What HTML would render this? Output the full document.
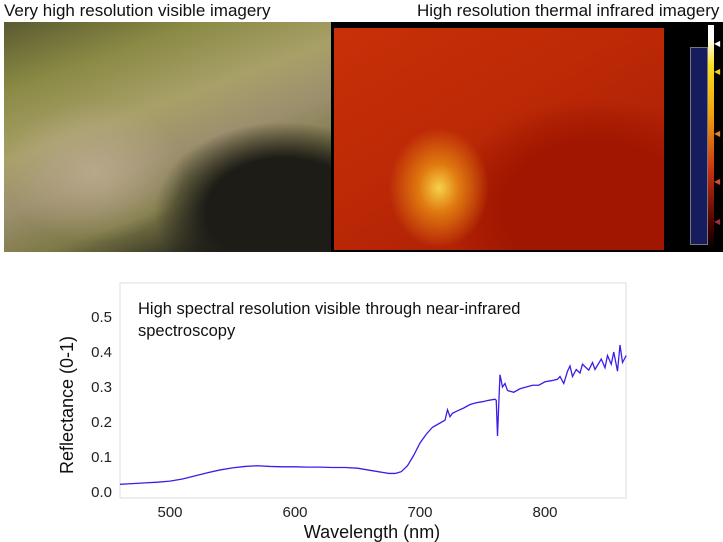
<!DOCTYPE html>
<html><head><meta charset="utf-8"><style>
body{margin:0;width:723px;height:542px;background:#fff;position:relative;overflow:hidden;font-family:"Liberation Sans",sans-serif}
.t{position:absolute;font-size:17px;color:#111;top:1px}
</style></head><body>
<div class="t" style="left:4px">Very high resolution visible imagery</div>
<div class="t" style="left:417px">High resolution thermal infrared imagery</div>
<div style="position:absolute;left:4px;top:22px;width:327px;height:230px;background:
radial-gradient(ellipse 90px 70px at 90px 150px,#b8a88a,transparent),
radial-gradient(ellipse 130px 90px at 280px 190px,#1d1c17 60%,transparent),
linear-gradient(160deg,#5a5a30 0%,#8a8a45 20%,#a8a068 40%,#9c8f6e 55%,#7e7a48 70%,#303022 85%,#1b1a15 100%)"></div>
<div style="position:absolute;left:331px;top:22px;width:392px;height:230px;background:#000"></div>
<div style="position:absolute;left:334px;top:28px;width:330px;height:222px;background:
radial-gradient(ellipse 50px 60px at 105px 160px,#f6d24a,#e07a10 40%,transparent),
radial-gradient(ellipse 150px 110px at 260px 180px,#a01600 60%,transparent),
linear-gradient(150deg,#c83008,#bd2a06 40%,#b22206 70%,#a01b04)"></div>
<div style="position:absolute;left:690px;top:47px;width:16px;height:196px;background:#171c5e;border:1px solid #777"></div>
<div style="position:absolute;left:708px;top:25px;width:6px;height:225px;background:linear-gradient(#fff,#fff 6%,#f8e020 18%,#f0a010 40%,#c83010 65%,#400 90%,#000)"></div>
<div style="position:absolute;left:714px;top:40px;width:8px;height:200px;color:#e8a020;font-size:8px;line-height:8px">
<div style="position:absolute;top:0;color:#fff">◀</div><div style="position:absolute;top:28px;color:#f0d020">◀</div><div style="position:absolute;top:90px;color:#e08030">◀</div><div style="position:absolute;top:138px;color:#d05040">◀</div><div style="position:absolute;top:178px;color:#a03040">◀</div></div>
<svg id="c" width="723" height="542" style="position:absolute;left:0;top:0"></svg>
<script>
const wl=[460,470,480,490,500,510,520,530,540,550,560,570,580,590,600,610,620,630,640,650,660,670,675,680,685,690,695,700,705,710,715,720,722,724,726,730,735,740,745,750,755,760,761,762,763,764,766,768,770,775,780,785,790,795,800,805,810,812,815,818,820,822,825,828,830,835,838,840,845,848,850,853,855,858,860,862,865];
const refl=[0.022,0.024,0.026,0.028,0.031,0.037,0.046,0.055,0.063,0.069,0.073,0.075,0.073,0.072,0.072,0.071,0.071,0.070,0.070,0.068,0.062,0.056,0.053,0.053,0.058,0.075,0.105,0.140,0.165,0.185,0.195,0.205,0.235,0.215,0.225,0.232,0.240,0.250,0.255,0.258,0.262,0.265,0.262,0.160,0.250,0.335,0.300,0.310,0.290,0.285,0.295,0.300,0.305,0.305,0.315,0.318,0.322,0.330,0.310,0.345,0.360,0.330,0.350,0.340,0.365,0.348,0.370,0.350,0.380,0.355,0.390,0.365,0.400,0.345,0.420,0.370,0.390];
const yTicks=[0.0,0.1,0.2,0.3,0.4,0.5];
const xTicks=[500,600,700,800];
const X=v=>120+(v-460)*1.25, Y=v=>492-v*350;
const s=document.getElementById('c'),NS='http://www.w3.org/2000/svg';
function el(t,a,txt){const e=document.createElementNS(NS,t);for(const k in a)e.setAttribute(k,a[k]);if(txt!==undefined)e.textContent=txt;s.appendChild(e);return e;}
let f=el('rect',{x:120,y:283,width:506,height:215,fill:'#fff',stroke:'#ddd'});


yTicks.forEach(v=>{let t=el('text',{x:112,y:Y(v)+5,'text-anchor':'end','font-size':15,fill:'#222'},v.toFixed(1));

});
xTicks.forEach(v=>{let t=el('text',{x:X(v),y:517,'text-anchor':'middle','font-size':15,fill:'#222'},v);

});
let p=el('polyline',{points:wl.map((w,i)=>X(w)+','+Y(refl[i])).join(' '),fill:'none',stroke:'#3a1ee8','stroke-width':1.3});


let a=el('text',{x:372,y:538,'text-anchor':'middle','font-size':18,fill:'#111'},'Wavelength (nm)');


let b=el('text',{x:0,y:0,'text-anchor':'middle','font-size':18,fill:'#111',transform:'translate(73,405) rotate(-90)'},'Reflectance (0-1)');


let c1=el('text',{x:138,y:314,'font-size':16.5,fill:'#111'},'High spectral resolution visible through near-infrared');


let c2=el('text',{x:138,y:336,'font-size':16.5,fill:'#111'},'spectroscopy');


</script>
</body></html>
